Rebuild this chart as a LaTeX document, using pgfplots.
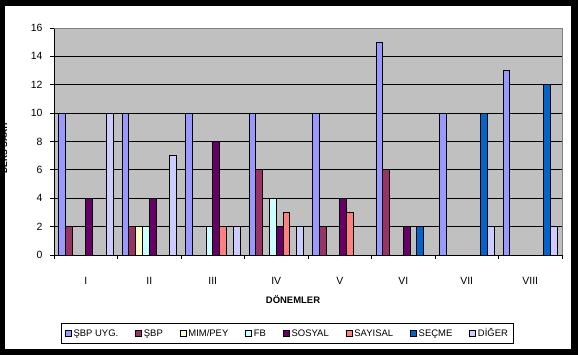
\documentclass[border=0pt]{standalone}
\usepackage{fontspec}
\setmainfont{Liberation Sans}
\usepackage{pgfplots}
\pgfplotsset{compat=1.18}
\definecolor{cUYG}{HTML}{9999FF}
\definecolor{cSBP}{HTML}{993366}
\definecolor{cMIM}{HTML}{FFFFCC}
\definecolor{cFB}{HTML}{CCFFFF}
\definecolor{cSOS}{HTML}{660066}
\definecolor{cSAY}{HTML}{FF8080}
\definecolor{cSEC}{HTML}{0066CC}
\definecolor{cDIG}{HTML}{CCCCFF}
\definecolor{plotbg}{HTML}{C0C0C0}
\begin{document}
\begin{tikzpicture}
\fill[black] (-54bp,-100bp) rectangle (524bp,255bp);
\path[use as bounding box] (-54bp,-100bp) rectangle (524bp,255bp);
\fill[white] (-49bp,-94bp) rectangle (517bp,249bp);
\begin{axis}[
  at={(0,0)}, anchor=south west,
  scale only axis, width=508bp, height=227bp,
  xmin=-0.5, xmax=7.5, ymin=0, ymax=16,
  ybar=0pt, bar width=6.8bp,
  axis background/.style={fill=plotbg},
  axis x line*=bottom, axis y line*=left,
  axis line style={black, line width=0.8bp},
  xtick={0,...,7},
  xticklabels={I,II,III,IV,V,VI,VII,VIII},
  major x tick style={draw=none},
  minor xtick={-0.5,0.5,...,7.5},
  ytick={0,2,...,16},
  tick align=outside,
  major tick length=4bp, minor tick length=4bp,
  tick style={black, line width=0.8bp},
  ymajorgrids, y grid style={black, line width=0.8bp},
  /pgf/number format/assume math mode=true,
  tick label style={font=\fontsize{10.5}{12}\selectfont},
  x tick label style={yshift=-15bp},
  y tick label style={xshift=-4bp},
  xlabel={\textbf{DÖNEMLER}},
  xlabel style={at={(axis description cs:0.4705,-0.198)}, anchor=center, font=\fontsize{9.5}{12}\selectfont},
  ylabel={\textbf{DERS SAATİ}},
  ylabel style={at={(axis description cs:-0.0994,0.471)}, anchor=center, rotate=0, inner sep=0pt, font=\fontsize{8.5}{10}\selectfont, text=black},
  legend style={at={(axis description cs:0.4596,-0.3458)}, anchor=center,
    draw=black, line width=0.8bp, font=\fontsize{9.5}{11}\selectfont,
    legend columns=8, inner sep=3.5bp,
    /tikz/every even column/.append style={column sep=15bp}},
  legend image code/.code={\draw[#1, draw=black, line width=0.6bp] (0bp,-3bp) rectangle (6bp,3bp);},
  clip=false,
]
\addplot[fill=cUYG, draw=black, line width=0.8bp] coordinates {(0,10)(1,10)(2,10)(3,10)(4,10)(5,15)(6,10)(7,13)};
\addplot[fill=cSBP, draw=black, line width=0.8bp] coordinates {(0,2)(1,2)(3,6)(4,2)(5,6)};
\addplot[fill=cMIM, draw=black, line width=0.8bp] coordinates {(1,2)};
\addplot[fill=cFB, draw=black, line width=0.8bp] coordinates {(1,2)(2,2)(3,4)};
\addplot[fill=cSOS, draw=black, line width=0.8bp] coordinates {(0,4)(1,4)(2,8)(3,2)(4,4)(5,2)};
\addplot[fill=cSAY, draw=black, line width=0.8bp] coordinates {(2,2)(3,3)(4,3)};
\addplot[fill=cSEC, draw=black, line width=0.8bp] coordinates {(5,2)(6,10)(7,12)};
\addplot[fill=cDIG, draw=black, line width=0.8bp] coordinates {(0,10)(1,7)(2,2)(3,2)(6,2)(7,2)};
\legend{ŞBP UYG.,ŞBP,MIM/PEY,FB,SOSYAL,SAYISAL,SEÇME,DİĞER}
\draw[gray, line width=0.8bp] (rel axis cs:0,1) -- (rel axis cs:1,1) -- (rel axis cs:1,0);
\end{axis}
\end{tikzpicture}
\end{document}
